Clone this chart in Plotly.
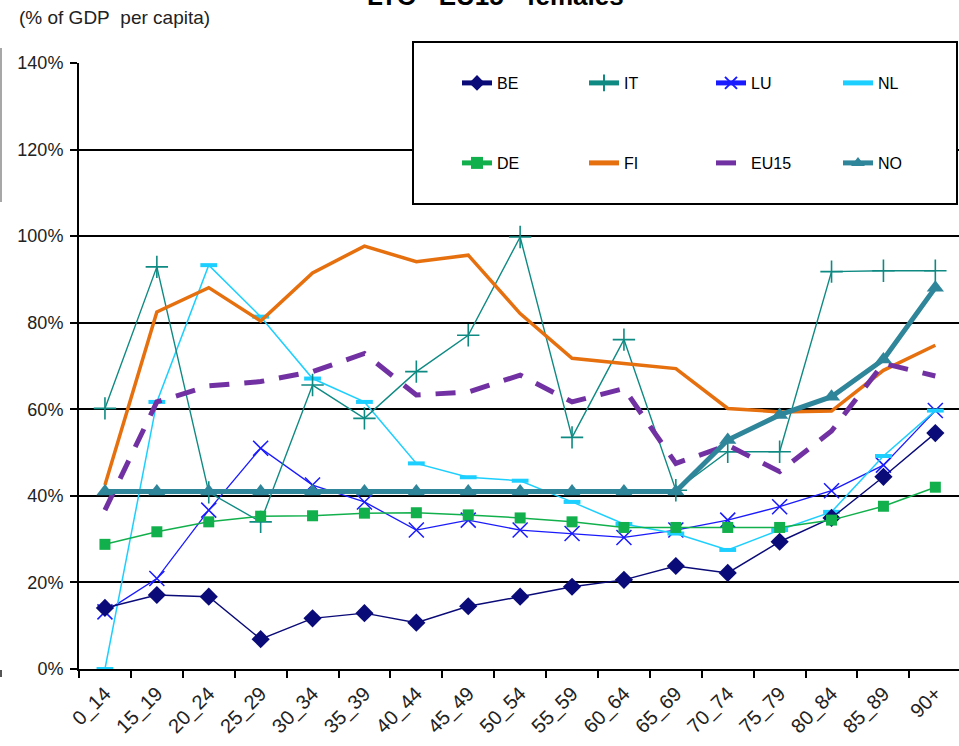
import plotly.graph_objects as go

# Age groups on the horizontal axis
AGE_GROUPS = ["0_14", "15_19", "20_24", "25_29", "30_34", "35_39", "40_44", "45_49",
              "50_54", "55_59", "60_64", "65_69", "70_74", "75_79", "80_84", "85_89", "90+"]

# Cost per head by age group, % of GDP per capita
BE = [14.1, 17.1, 16.7, 6.9, 11.7, 12.9, 10.7, 14.5, 16.7, 19.0, 20.6, 23.8, 22.2, 29.4, 34.9, 44.4, 54.5]
IT = [60.2, 92.9, 40.8, 34.0, 65.6, 57.9, 68.7, 77.1, 99.8, 53.5, 76.1, 41.3, 50.2, 50.2, 91.8, 92.0, 92.0]
LU = [13.2, 20.9, 36.7, 51.0, 42.5, 38.6, 32.1, 34.4, 32.1, 31.3, 30.4, 32.1, 34.4, 37.5, 41.2, 47.1, 59.7]
NL = [0.0, 61.7, 93.3, 81.4, 67.1, 61.7, 47.5, 44.3, 43.5, 38.6, 33.5, 31.3, 27.5, 32.1, 36.3, 49.2, 59.7]
DE = [28.8, 31.7, 34.0, 35.3, 35.4, 36.0, 36.1, 35.6, 34.9, 34.0, 32.7, 32.7, 32.7, 32.7, 34.4, 37.6, 42.0]
FI = [42.5, 82.5, 88.1, 80.4, 91.5, 97.7, 94.1, 95.6, 82.1, 71.8, 70.6, 69.4, 60.2, 59.4, 59.6, 69.0, 74.8]
EU15 = [36.7, 61.7, 65.4, 66.4, 68.7, 72.9, 63.3, 64.0, 67.9, 61.7, 64.8, 47.5, 51.7, 45.6, 55.0, 70.6, 67.7]
NO = [41.0, 41.0, 41.0, 41.0, 41.0, 41.0, 41.0, 41.0, 41.0, 41.0, 41.0, 41.0, 52.9, 58.7, 62.9, 71.5, 88.1]

Y_TICKS = [0, 20, 40, 60, 80, 100, 120, 140]
Y_TICK_TEXT = ["0%", "20%", "40%", "60%", "80%", "100%", "120%", "140%"]
GRID_LEVELS = [20, 40, 60, 80, 100, 120]

FONT = "Liberation Sans, Arial, sans-serif"
TEXT = "#222222"

W, H = 959, 746
M_L, M_R, M_T, M_B = 79, 0, 63, 77
PW = W - M_L - M_R
PH = H - M_T - M_B


def px_x(x):
    """Page pixel column -> paper x."""
    return (x - M_L) / PW


def px_y(y):
    """Page pixel row -> paper y."""
    return (H - M_B - y) / PH


fig = go.Figure()


def add_series(name, values, color, width, legend, rank, marker=None, dash="solid"):
    fig.add_trace(go.Scatter(
        x=AGE_GROUPS, y=values, name=name,
        mode="lines+markers" if marker else "lines",
        line=dict(color=color, width=width, dash=dash),
        marker=marker,
        legend=legend, legendrank=rank,
        cliponaxis=False,
    ))


# drawing order: thin country lines first, the heavy NO line on top
add_series("LU", LU, "#1a1aff", 1.3, "legend", 3,
           marker=dict(symbol="x-thin", size=15, line=dict(color="#1a1aff", width=1.5)))
add_series("NL", NL, "#1ccfff", 1.5, "legend", 4,
           marker=dict(symbol="line-ew", size=12, line=dict(color="#1ccfff", width=4)))
add_series("IT", IT, "#0f8a83", 1.4, "legend", 2,
           marker=dict(symbol="cross-thin", size=16, line=dict(color="#0f8a83", width=1.6)))
add_series("BE", BE, "#0a0a78", 1.4, "legend", 1,
           marker=dict(symbol="diamond", size=14, color="#0a0a78"))
add_series("DE", DE, "#12b04c", 1.5, "legend2", 1,
           marker=dict(symbol="square", size=11, color="#12b04c"))
add_series("FI", FI, "#e66f0e", 3.5, "legend2", 2)
add_series("EU15", EU15, "#7231a2", 5, "legend2", 3, dash="20px,15px")
add_series("NO", NO, "#2f8599", 5, "legend2", 4,
           marker=dict(symbol="triangle-up", size=15, color="#2f8599"))

legend_common = dict(
    orientation="h", xanchor="left", yanchor="middle",
    entrywidth=82, entrywidthmode="pixels",
    bgcolor="rgba(0,0,0,0)", borderwidth=0,
    font=dict(family=FONT, size=16, color="black"),
    itemsizing="constant", traceorder="normal",
)

fig.update_layout(
    width=W, height=H,
    margin=dict(l=M_L, r=M_R, t=M_T, b=M_B, pad=0, autoexpand=False),
    paper_bgcolor="white", plot_bgcolor="white",
    font=dict(family=FONT, size=17, color=TEXT),
    showlegend=True,
    legend=dict(x=px_x(457), y=px_y(83), **legend_common),
    legend2=dict(x=px_x(457), y=px_y(163), **legend_common),
    xaxis=dict(
        type="category", range=[-0.5, 16.456], automargin=False,
        tickson="boundaries", ticks="outside", ticklen=7, tickwidth=1.5, tickcolor="black",
        tickangle=-45, tickfont=dict(family=FONT, size=20, color=TEXT), ticklabelstandoff=3,
        showline=True, linecolor="black", linewidth=2, showgrid=False, zeroline=False,
    ),
    yaxis=dict(
        range=[0, 140], tickvals=Y_TICKS, ticktext=Y_TICK_TEXT, automargin=False,
        ticks="outside", ticklen=7, tickwidth=1.5, tickcolor="black",
        tickfont=dict(family=FONT, size=18, color=TEXT), ticklabelstandoff=3,
        showline=True, linecolor="black", linewidth=2,
        showgrid=False, zeroline=False,
    ),
    # horizontal reference lines, drawn on an overlaid axis without labels
    yaxis2=dict(
        overlaying="y", side="left", range=[0, 140], tickvals=GRID_LEVELS, automargin=False,
        showgrid=True, gridcolor="black", gridwidth=1.6,
        showticklabels=False, ticks="", showline=False, zeroline=False,
    ),
)

# invisible carrier trace so the overlaid grid axis is laid out
fig.add_trace(go.Scatter(x=[AGE_GROUPS[0]], y=[0], yaxis="y2", mode="markers",
                         marker=dict(opacity=0), showlegend=False, hoverinfo="skip"))

# legend frame
fig.add_shape(type="rect", xref="paper", yref="paper",
              x0=px_x(413), x1=px_x(957), y0=px_y(204), y1=px_y(42),
              line=dict(color="black", width=2), fillcolor="white", layer="above")

# page frame remnants along the left edge
fig.add_shape(type="line", xref="paper", yref="paper",
              x0=px_x(1), x1=px_x(1), y0=px_y(202), y1=px_y(48),
              line=dict(color="#8a8a8a", width=1.5))
fig.add_shape(type="line", xref="paper", yref="paper",
              x0=px_x(1), x1=px_x(1), y0=px_y(677), y1=px_y(670),
              line=dict(color="#555555", width=2))

# chart title, running off the top of the page
fig.add_annotation(text="<b>LTC - EU15 - females</b>", xref="paper", yref="paper",
                   x=px_x(495), y=px_y(13), xanchor="center", yanchor="bottom",
                   showarrow=False, font=dict(family=FONT, size=26, color="black"))

# unit label above the value axis
fig.add_annotation(text="(% of GDP\u00a0 per capita)", xref="paper", yref="paper",
                   x=px_x(17), y=px_y(18), xanchor="left", yanchor="middle",
                   showarrow=False, font=dict(family=FONT, size=19, color=TEXT))

fig.write_html("out.html")
